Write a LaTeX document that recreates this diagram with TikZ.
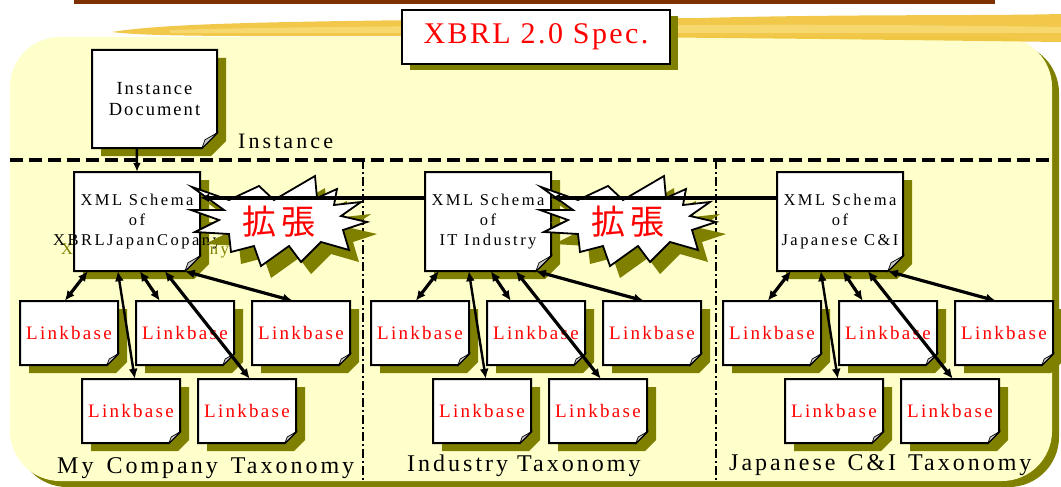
\documentclass[tikz,border=0pt]{standalone}
\usepackage{fontspec}
\setmainfont{Liberation Serif}
\usetikzlibrary{arrows.meta}
\newfontfamily\titlefont[LetterSpace=8]{Liberation Serif}
\newfontfamily\docfont[LetterSpace=11]{Liberation Serif}
\newfontfamily\labelfont[LetterSpace=14]{Liberation Serif}
\newfontfamily\schemafont[LetterSpace=15]{Liberation Serif}
\newfontfamily\linkfont[LetterSpace=12]{Liberation Serif}
\newfontfamily\taxfont[LetterSpace=12.5]{Liberation Serif}
\newfontfamily\cjkfont{Noto Sans CJK JP}

\definecolor{olivesh}{HTML}{808000}
\definecolor{paper}{HTML}{FFFFCC}
\definecolor{barbrown}{HTML}{7F3000}
\definecolor{brushgold}{HTML}{EFC235}
\definecolor{brushlight}{HTML}{F8DC78}
\definecolor{foldgrey}{HTML}{C8C8C8}

% document sheet: #1 name, #2 left, #3 top, #4 width, #5 height,
% #6 size of the turned corner, #7 node options, #8 text
\newcommand\docbox[8]{%
  \fill[olivesh] ({#2+9},{#3+8}) -- ({#2+#4+9},{#3+8}) -- ({#2+#4+9},{#3+#5+8-#6})
     -- ({#2+#4+9-#6},{#3+#5+8}) -- ({#2+9},{#3+#5+8}) -- cycle;
  \draw[docline, fill=white] (#2,#3) -- ({#2+#4},#3) -- ({#2+#4},{#3+#5-#6})
     -- ({#2+#4-#6},{#3+#5}) -- (#2,{#3+#5}) -- cycle;
  \draw[foldline] ({#2+#4},{#3+#5-#6}) -- ({#2+#4-#6},{#3+#5})
     -- ({#2+#4-0.8*#6},{#3+#5-0.55*#6}) -- cycle;
  \node[docnode, minimum width=#4pt, minimum height=#5pt, #7] (#1)
     at ({#2+#4/2},{#3+#5/2}) {#8};
}

\begin{document}
\begin{tikzpicture}[x=1pt,y=-1pt,
  docline/.style={draw=black, line width=2pt, line join=miter},
  foldline/.style={draw=black, line width=0.7pt, fill=foldgrey},
  docnode/.style={inner sep=0pt, align=center},
  linktext/.style={text=red, font=\linkfont\fontsize{19}{22}\selectfont},
  schematext/.style={font=\schemafont\fontsize{16.5}{20}\selectfont},
  tax/.style={anchor=base west, inner sep=0pt, font=\taxfont\fontsize{24}{28}\selectfont},
  rel/.style={line width=3.2pt, {Latex[length=10pt,width=9pt]}-{Latex[length=10pt,width=9pt]}},
  relthin/.style={rel, line width=2.4pt},
  ext/.style={line width=3.4pt, -{Latex[length=9pt,width=9pt]}},
  sep/.style={line width=2.6pt, dash pattern=on 9pt off 3pt on 2pt off 3pt},
  layerline/.style={line width=3.6pt, dash pattern=on 13pt off 6pt},
  burst/.style={insert path={(-87,-35) -- (-50,-22) -- (-20,-36) -- (-5,-22) -- (36,-46)
     -- (38,-24) -- (58,-33) -- (55,-17) -- (82,-20) -- (62,-6) -- (88,0) -- (64,8)
     -- (70,28) -- (42,20) -- (22,40) -- (10,24) -- (-18,44) -- (-25,24) -- (-48,30)
     -- (-50,12) -- (-84,10) -- (-60,-2) -- (-88,-12) -- (-55,-12) -- cycle}},
]
\useasboundingbox (0,0) rectangle (1061,487);

% top rule
\fill[barbrown] (74,0) rectangle (995,4);

% background panel with its shadow
\fill[olivesh, rounded corners=50pt] (17,43) rectangle (1059,487);
\fill[paper, rounded corners=50pt] (10,37) rectangle (1052,481);

% highlighter stroke behind the heading
\fill[brushgold, opacity=0.9] (112,32) .. controls (160,24) and (260,22) .. (420,20)
   -- (700,18) .. controls (850,14) and (980,16) .. (1061,14) -- (1061,42)
   .. controls (900,40) and (700,37) .. (420,36) .. controls (250,36) and (150,37) .. (112,32) -- cycle;
\fill[brushlight, opacity=0.8] (170,30) .. controls (300,26) and (500,26) .. (700,25)
   .. controls (850,24) and (1000,26) .. (1061,27) -- (1061,33)
   .. controls (900,33) and (600,33) .. (170,33) -- cycle;

% heading
\fill[olivesh] (410,16) rectangle (678,70);
\node[draw=black, line width=1.6pt, fill=white, minimum width=268pt, minimum height=54pt,
      inner sep=0pt, text=red, font=\titlefont\fontsize{30}{30}\selectfont]
      (title) at (536,37) {XBRL 2.0 Spec.};

% layer separators
\draw[layerline] (10,160) -- (1050,160);
\draw[sep] (363,160) -- (363,481);
\draw[sep] (716,160) -- (716,481);

% instance layer
\node[anchor=base west, inner sep=0pt, font=\labelfont\fontsize{22}{26}\selectfont]
      (instlabel) at (238,148) {Instance};
\docbox{idoc}{92}{50}{125}{98}{15}{font=\docfont\fontsize{18.5}{21}\selectfont}{Instance\\Document}

% shadow of the overflowing schema name
\node[anchor=base, inner sep=0pt, text=olivesh, schematext] (ghost) at (145,254) {XBRLJapanCopany};

% schemas
\foreach \g/\dx/\lb/\lc in {1/0/of/\makebox[0pt]{XBRLJapanCopany},
                            2/351/of/IT Industry,
                            3/703/o\,f/Japanese C\&I}{
  \docbox{sc\g}{74+\dx}{172}{126}{99}{15}{schematext}{XML Schema\\\lb\\\lc}
}

% linkbases
\foreach \g/\dx in {1/0,2/351,3/703}{
  \docbox{lk\g a}{20+\dx}{301}{98}{64}{11}{linktext}{Linkbase}
  \docbox{lk\g b}{136+\dx}{301}{98}{64}{11}{linktext}{Linkbase}
  \docbox{lk\g c}{252+\dx}{301}{98}{64}{11}{linktext}{Linkbase}
  \docbox{lk\g d}{82+\dx}{379}{98}{64}{11}{linktext}{Linkbase}
  \docbox{lk\g e}{198+\dx}{379}{98}{64}{11}{linktext}{Linkbase}
}

% extension bursts
\foreach \g/\cx in {1/279,2/628}{
  \fill[olivesh, shift={(\cx+10,234)}, burst];
  \draw[line width=1.8pt, fill=white, shift={(\cx,222)}, burst];
  \node[text=red, inner sep=0pt, font=\cjkfont\fontsize{34}{34}\selectfont]
        (ext\g) at (\cx,222) {拡\hspace{5pt}張};
}

% extension links between schemas
\draw[ext] ([yshift=-26pt]sc2.north west) -- ([yshift=-26pt]sc1.north east);
\draw[ext] ([yshift=-26pt]sc3.north west) -- ([yshift=-26pt]sc2.north east);

% instance to schema
\draw[line width=2.4pt, -{Latex[length=9pt,width=8pt]}] ([xshift=45pt]idoc.south west) -- (sc1.north);

% schema to linkbase relations
\foreach \g in {1,2,3}{
  \draw[rel] ([xshift=14pt]sc\g.south west) -- ([xshift=45pt]lk\g a.north west);
  \draw[relthin] ([xshift=44pt]sc\g.south west) -- ([xshift=53pt]lk\g d.north west);
  \draw[rel] ([xshift=66pt]sc\g.south west) -- ([xshift=24pt]lk\g b.north west);
  \draw[rel] ([xshift=91pt]sc\g.south west) -- ([xshift=52pt]lk\g e.north west);
  \draw[rel] ([xshift=111pt]sc\g.south west) -- ([xshift=41pt]lk\g c.north west);
}

% taxonomy captions
\node[tax] (tx1) at (57,473) {My\hspace{4pt} Company\hspace{4pt} Taxonomy};
\node[tax] (tx2) at (407,471) {Industry Taxonomy};
\node[tax] (tx3) at (729,470) {Japanese\hspace{3pt} C\&I\hspace{3pt} Taxonomy};
\end{tikzpicture}
\end{document}
